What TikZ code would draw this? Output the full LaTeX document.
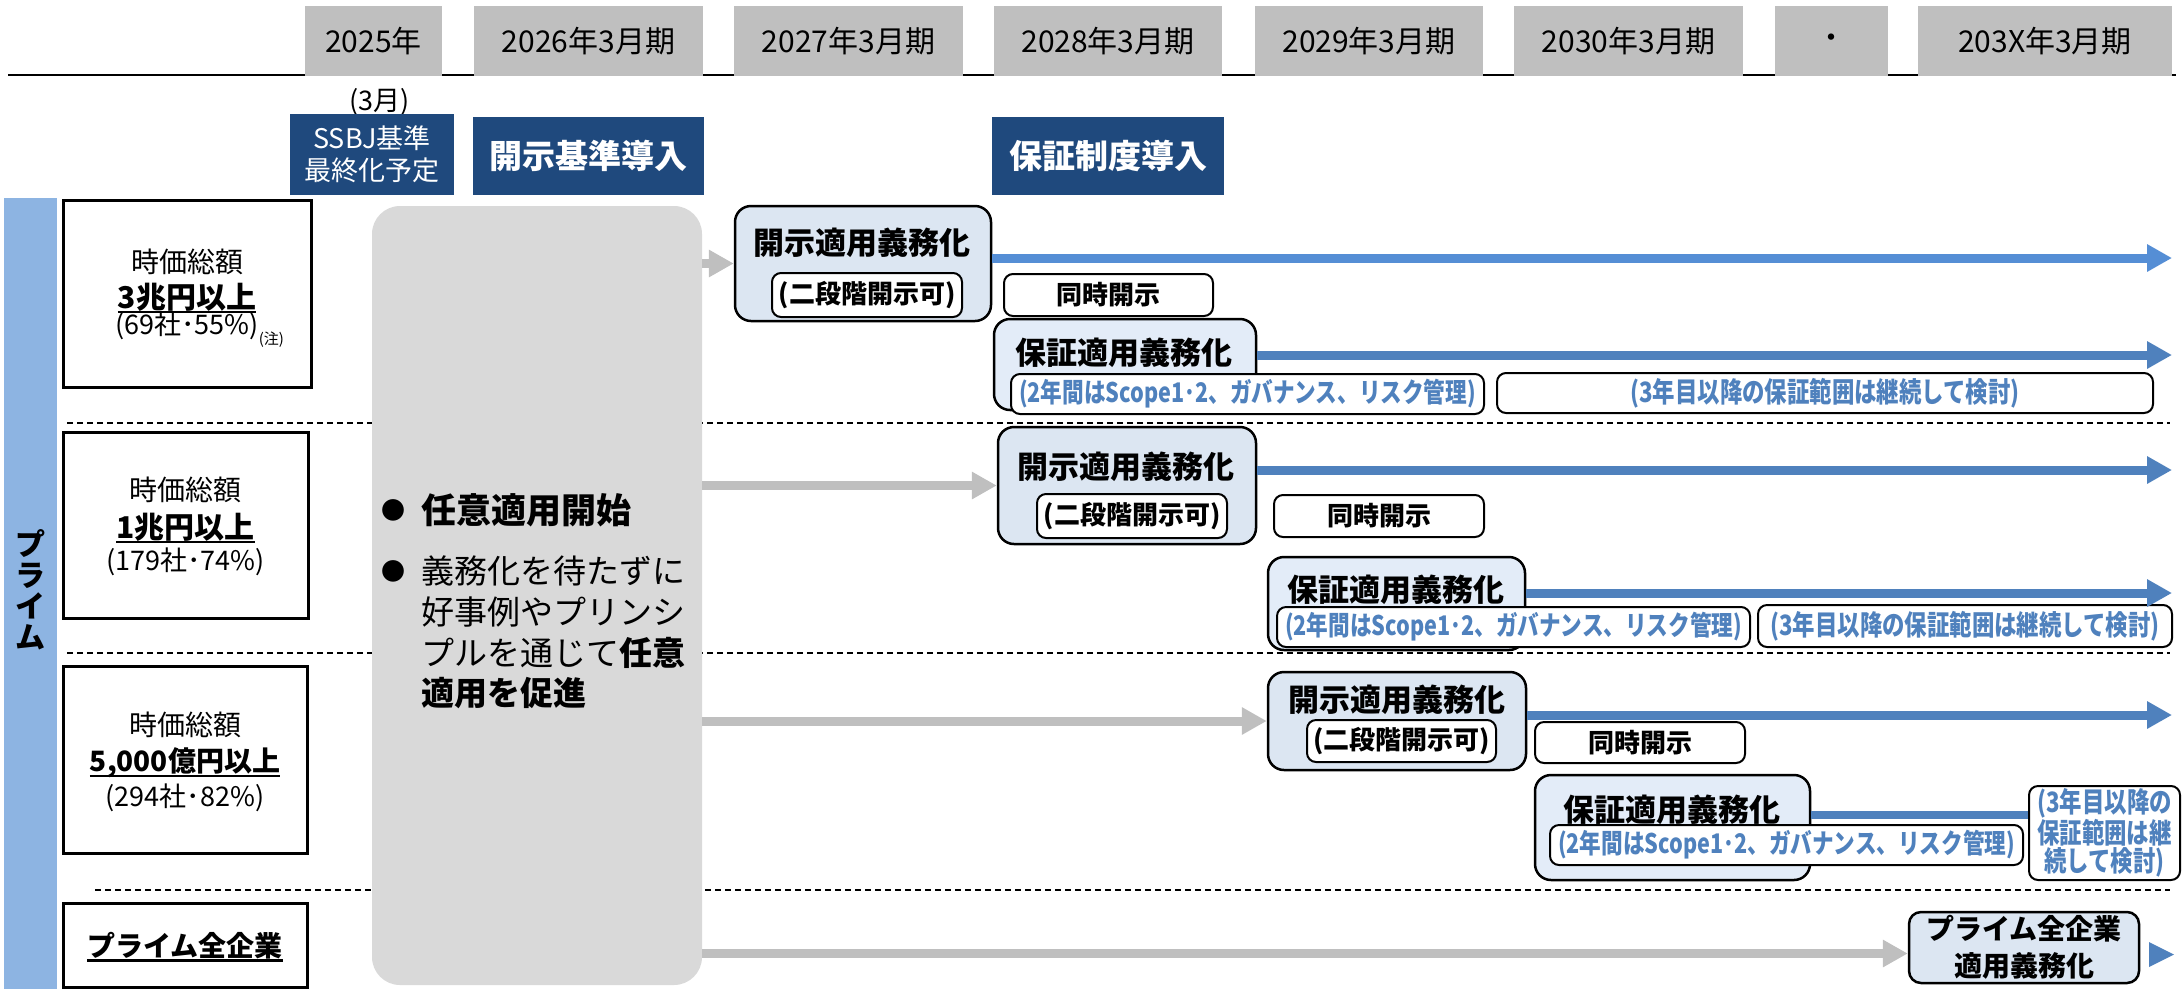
\documentclass[tikz,border=0pt]{standalone}
\usepackage{fontspec}
\setmainfont{Noto Sans CJK JP}
\newfontfamily\nrw[FakeStretch=0.8]{Noto Sans CJK JP}
\usetikzlibrary{arrows.meta,calc}
\definecolor{hdrgray}{HTML}{BFBFBF}
\definecolor{navyc}{HTML}{1F497D}
\definecolor{stripc}{HTML}{8DB4E2}
\definecolor{boxgray}{HTML}{D9D9D9}
\definecolor{arrgray}{HTML}{BFBFBF}
\definecolor{kfill}{HTML}{DCE6F2}
\definecolor{gfill}{HTML}{E3ECF8}
\definecolor{arrblueA}{HTML}{558ED5}
\definecolor{arrblue}{HTML}{4F81BD}
\definecolor{txtblue}{HTML}{4F81BD}
\newcommand\myfs[1]{\fontsize{#1}{#1}\selectfont}
\newcommand\myul[1]{\setbox0=\hbox{#1}\rlap{\rule[-5pt]{\wd0}{2.2pt}}\box0}
\tikzset{
  hdr/.style={fill=hdrgray, inner sep=0, minimum height=70, font=\myfs{30}},
  navybox/.style={fill=navyc, text=white, inner sep=0, align=center},
  lbox/.style={draw=black, line width=3pt, fill=white, inner sep=0},
  kbox/.style={draw=black, line width=2.5pt, fill=kfill, rounded corners=16pt, inner sep=0},
  gbox/.style={kbox, fill=gfill},
  wbox/.style={draw=black, line width=2pt, fill=white, rounded corners=9pt, inner sep=0, align=center},
  txt/.style={inner sep=0, align=center},
  ttl/.style={inner sep=0, font={\myfs{31}\bfseries}},
  nt/.style={font={\myfs{26}\bfseries}},
  bluetxt/.style={text=txtblue, font={\nrw\myfs{27}\bfseries}},
  bluetxtb/.style={text=txtblue, font={\nrw\myfs{28}\bfseries}},
  blarrow/.style={draw=arrblue, line width=9pt, -{Triangle[length=25pt,width=26pt]}},
  blarrowA/.style={draw=arrblueA, line width=9pt, -{Triangle[length=25pt,width=26pt]}},
  blline/.style={draw=arrblue, line width=8pt},
  grarrow/.style={draw=arrgray, line width=9pt, -{Triangle[length=25pt,width=26pt]}},
  dashline/.style={draw=black, line width=1.5pt, dash pattern=on 6pt off 4pt},
}
\begin{document}
\begin{tikzpicture}[x=1pt,y=-1pt]
\useasboundingbox (0,0) rectangle (2183,989);

% header line and year boxes
\coordinate (hl0) at (8,75);
\coordinate (hl1) at (2176,75);
\draw[line width=2.5pt] (hl0) -- (hl1);
\node[hdr, minimum width=137] (h1) at (373.5,41) {2025年};
\node[hdr, minimum width=229] (h2) at (588.5,41) {2026年3月期};
\node[hdr, minimum width=229] (h3) at (848.5,41) {2027年3月期};
\node[hdr, minimum width=228] (h4) at (1108,41) {2028年3月期};
\node[hdr, minimum width=228] (h5) at (1369,41) {2029年3月期};
\node[hdr, minimum width=229] (h6) at (1628.5,41) {2030年3月期};
\node[hdr, minimum width=113] (h7) at (1831.5,41) {・};
\node[hdr, minimum width=254] (h8) at (2045,41) {203X年3月期};

% milestone boxes
\node[txt, font=\myfs{27}] (mar) at (379.5,102) {(3月)};
\node[navybox, minimum width=164, minimum height=81, font={\fontsize{27}{32}\selectfont}] (ssbj) at (372,154.5) {SSBJ基準\\最終化予定};
\node[navybox, minimum width=231, minimum height=78, font={\myfs{33}\bfseries}] (kaiji) at (588.5,156) {開示基準導入};
\node[navybox, minimum width=232, minimum height=78, font={\myfs{33}\bfseries}] (hosho) at (1108,156) {保証制度導入};

% left strip
\node[fill=stripc, inner sep=0, minimum width=53, minimum height=791] (strip) at (30.5,593.5) {};
\node[txt, font={\fontsize{30}{31}\selectfont\bfseries}] (prime) at (30.5,590) {プ\\ラ\\イ\\ム};

% dashed separators
\coordinate (d1a) at (67,423);  \coordinate (d1b) at (2170,423);
\coordinate (d2a) at (67,653);  \coordinate (d2b) at (2170,653);
\coordinate (d3a) at (95,890);  \coordinate (d3b) at (2170,890);
\draw[dashline] (d1a) -- (d1b);
\draw[dashline] (d2a) -- (d2b);
\draw[dashline] (d3a) -- (d3b);

% left category boxes
\node[lbox, minimum width=248, minimum height=187] (L1) at (187,293.5) {};
\node[txt, font=\myfs{28}] (l1a) at (187,262) {時価総額};
\node[txt, font={\myfs{30}\bfseries}] (l1b) at (187,298) {\myul{3兆円以上}};
\node[txt, font=\myfs{27}] (l1c) at (187,330) {(69社･55\%)\rlap{\raisebox{-10pt}{\myfs{15}(注)}}};

\node[lbox, minimum width=245, minimum height=186] (L2) at (185.5,525) {};
\node[txt, font=\myfs{28}] (l2a) at (185.5,490) {時価総額};
\node[txt, font={\myfs{30}\bfseries}] (l2b) at (185.5,528) {\myul{1兆円以上}};
\node[txt, font=\myfs{27}] (l2c) at (185.5,562) {(179社･74\%)};

\node[lbox, minimum width=244, minimum height=187] (L3) at (185,759.5) {};
\node[txt, font=\myfs{28}] (l3a) at (185,725) {時価総額};
\node[txt, font={\myfs{28}\bfseries}] (l3b) at (185,763) {\myul{5,000億円以上}};
\node[txt, font=\myfs{27}] (l3c) at (185,798) {(294社･82\%)};

\node[lbox, minimum width=244, minimum height=84] (L4) at (185,945) {};
\node[txt, font={\myfs{28}\bfseries}] (l4a) at (185,947) {\myul{プライム全企業}};

% big gray box
\node[fill=boxgray, rounded corners=28pt, inner sep=0, minimum width=330, minimum height=779] (gray) at (537,595.5) {};
\node[txt, font=\myfs{24}] (bul1) at (393,510) {●};
\node[txt, anchor=west, font={\myfs{35}\bfseries}] (gt1) at (421,510) {任意適用開始};
\node[txt, font=\myfs{24}] (bul2) at (393,571) {●};
\node[txt, anchor=west, font=\myfs{33}] (gt2) at (421,571) {義務化を待たずに};
\node[txt, anchor=west, font=\myfs{33}] (gt3) at (421,612) {好事例やプリンシ};
\node[txt, anchor=west, font=\myfs{33}] (gt4) at (421,653) {プルを通じて\textbf{任意}};
\node[txt, anchor=west, font={\myfs{33}\bfseries}] (gt5) at (421,693) {適用を促進};

% ---- row 1 ----
\node[kbox, minimum width=256, minimum height=115] (k1) at (863,263.5) {};
\node[ttl] (k1t) at (862,243) {開示適用義務化};
\node[wbox, minimum width=190, minimum height=44, nt] (k1w) at (867,295) {(二段階開示可)};
\node[wbox, minimum width=209, minimum height=42, font={\myfs{26}\bfseries}] (t1) at (1108.5,295) {同時開示};
\node[gbox, minimum width=262, minimum height=91] (g1) at (1125,364.5) {};
\node[ttl] (g1t) at (1124,353) {保証適用義務化};
\node[wbox, minimum width=473, minimum height=40, bluetxt] (g1w) at (1247.5,394) {(2年間はScope1･2、ガバナンス、リスク管理)};
\node[wbox, minimum width=656, minimum height=40, bluetxtb] (r1) at (1825,393) {(3年目以降の保証範囲は継続して検討)};

% ---- row 2 ----
\node[kbox, minimum width=258, minimum height=117] (k2) at (1127,485.5) {};
\node[ttl] (k2t) at (1126,467) {開示適用義務化};
\node[wbox, minimum width=190, minimum height=44, nt] (k2w) at (1132,516) {(二段階開示可)};
\node[wbox, minimum width=210, minimum height=42, font={\myfs{26}\bfseries}] (t2) at (1379,516) {同時開示};
\node[gbox, minimum width=257, minimum height=93] (g2) at (1396.5,603.5) {};
\node[ttl] (g2t) at (1396,590) {保証適用義務化};
\node[wbox, minimum width=473, minimum height=40, bluetxt] (g2w) at (1513.5,627) {(2年間はScope1･2、ガバナンス、リスク管理)};
\node[wbox, minimum width=414, minimum height=42, bluetxtb] (r2) at (1965,626) {(3年目以降の保証範囲は継続して検討)};

% ---- row 3 ----
\node[kbox, minimum width=258, minimum height=98] (k3) at (1397,721) {};
\node[ttl] (k3t) at (1397,700) {開示適用義務化};
\node[wbox, minimum width=189, minimum height=42, nt] (k3w) at (1401.5,741) {(二段階開示可)};
\node[wbox, minimum width=210, minimum height=41, font={\myfs{26}\bfseries}] (t3) at (1640,742.5) {同時開示};
\node[gbox, minimum width=275, minimum height=105] (g3) at (1672.5,827.5) {};
\node[ttl] (g3t) at (1672,810) {保証適用義務化};
\node[wbox, minimum width=473, minimum height=40, bluetxt] (g3w) at (1786.5,845) {(2年間はScope1･2、ガバナンス、リスク管理)};
\node[wbox, minimum width=151, minimum height=94, text=txtblue, font={\nrw\fontsize{28}{28.5}\selectfont\bfseries}] (r3) at (2104.5,833) {(3年目以降の\\保証範囲は継\\続して検討)};

% ---- row 4 ----
\node[kbox, rounded corners=12pt, minimum width=230, minimum height=71, align=center, font={\fontsize{28}{37}\selectfont\bfseries}] (pall) at (2024,947.5) {プライム全企業\\適用義務化};

% gray arrows
\coordinate (a4) at ($(pall.west)+(0,6)$);
\draw[grarrow] (gray.east |- k1.west) -- (k1.west);
\draw[grarrow] (gray.east |- k2.west) -- (k2.west);
\draw[grarrow] (gray.east |- k3.west) -- (k3.west);
\draw[grarrow] (gray.east |- a4) -- (a4);

% blue arrows
\coordinate (e1) at (2172,258);
\coordinate (e2) at (2172,355);
\coordinate (e3) at (2172,470);
\coordinate (e4) at (2172,593);
\coordinate (e5) at (2172,715);
\coordinate (e6) at (2029,815);
\draw[blarrowA] (k1.east |- e1) -- (e1);
\draw[blarrow] (g1.east |- e2) -- (e2);
\draw[blarrow] (k2.east |- e3) -- (e3);
\draw[blarrow] (g2.east |- e4) -- (e4);
\draw[blarrow] (k3.east |- e5) -- (e5);
\draw[blline] (g3.east |- e6) -- (r3.west |- e6);
\fill[arrblue] (2149,942) -- (2174,954.5) -- (2149,967) -- cycle;
\end{tikzpicture}
\end{document}
